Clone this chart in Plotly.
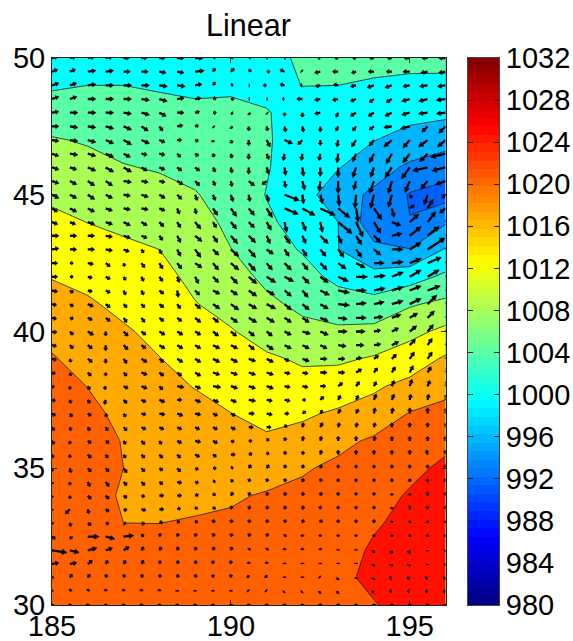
import numpy as np
import plotly.graph_objects as go

TITLE = "Linear"
LON_P = [185,186,187,188,189,190,191,192,193,194,195,196]
LAT_P = [50,49,48,47,46,45,44,43,42,41,40,39,38,37,36,35,34,33,32,31,30]
PRESSURE = [
[1002.6,1002.8,1002.8,1002.6,1002.3,1002.4,1003.4,1004.3,1004.5,1004.8,1004.8,1005],
[1003.5,1004.0,1004.0,1003.65,1003.4,1003.7,1003.0,1004.05,1004.0,1003.7,1003.4,1003.2],
[1006.0,1005.87,1005.44,1005.04,1004.62,1004.42,1004.2,1002.6,1002.6,1002.0,1001.2,1000.8],
[1008.28,1007.67,1006.82,1006.37,1005.82,1005.14,1004.42,1001.9,1001.4,1000.1,998.6,997.6],
[1009.78,1009.13,1008.2,1007.7,1007.02,1005.85,1004.3,1001.5,1000.2,997.7,995.3,993.7],
[1011.33,1010.56,1009.8,1009.16,1008.21,1006.6,1003.85,1001.6,997.6,995.3,991.7,990.5],
[1012.82,1011.95,1011.3,1010.58,1009.18,1007.31,1004.7,1002.4,1000.0,993.5,992.1,995.6],
[1014.3,1013.49,1012.64,1012,1010.14,1008.05,1005.6,1003.7,1000.05,997,996.1,1000.3],
[1015.84,1015.09,1013.93,1013.06,1011.14,1009.47,1007.2,1005.4,1003,1001.2,1002.3,1004.8],
[1017.33,1016.43,1015.17,1014.08,1012.14,1010.84,1008.75,1007.2,1005.8,1005.5,1007.6,1008.9],
[1018.9,1017.53,1016.4,1015.13,1013.4,1012.23,1010.64,1009,1008.7,1009,1010.9,1012.9],
[1020.3,1018.59,1017.5,1016.09,1014.67,1013.5,1012.47,1011.6,1011.4,1012.4,1014,1016.5],
[1021,1019.95,1018.4,1016.73,1015.9,1014.78,1013.66,1013,1014,1015.5,1017,1019],
[1021.6,1020.6,1019.4,1017.37,1016.8,1016.04,1015,1015.5,1016.5,1017.4,1020.2,1021],
[1022,1021.3,1019.85,1018.04,1017.67,1017.25,1016.5,1017.2,1019,1020.6,1021.6,1023],
[1022.3,1021.8,1020,1018.68,1018.52,1018.41,1018.5,1019.6,1020.8,1021.8,1023,1024.8],
[1022.5,1022.1,1019.4,1019.34,1019.4,1019.61,1020.3,1020.9,1021.6,1022.5,1024.4,1025.7],
[1022.6,1022.4,1020,1019.98,1020.2,1020.5,1021,1021.5,1022.2,1023.6,1025,1026],
[1022.7,1022.6,1021.2,1020.8,1021,1021.1,1021.5,1021.9,1022.5,1024.5,1025.4,1026],
[1022.8,1022.8,1022,1021.4,1021.6,1021.6,1021.9,1022.2,1023.2,1024.8,1025.6,1025.9],
[1022.9,1023,1022.4,1021.9,1022,1022,1022.2,1022.4,1023.2,1023.8,1025.4,1025.8],
]
BAND_LEVELS = [988,992,996,1000,1004,1008,1012,1016,1020,1024]
BAND_COLORS = ["#0060ff","#0080ff","#00b4ff","#00ffff","#5affa5","#aaff55","#ffff00","#ffaa00","#ff6000","#ff1000"]

LON_W = [185,185.5,186,186.5,187,187.5,188,188.5,189,189.5,190,190.5,191,191.5,192,192.5,193,193.5,194,194.5,195,195.5,196]
LAT_W = [50,49.5,49,48.5,48,47.5,47,46.5,46,45.5,45,44.5,44,43.5,43,42.5,42,41.5,41,40.5,40,39.5,39,38.5,38,37.5,37,36.5,36,35.5,35,34.5,34,33.5,33,32.5,32,31.5,31,30.5,30]
U = [
[5,5,6,6,5,5,5,6,7,2,2,2,1,1,0,-2,-3,-3,-4,-4,-5,-5,-6],
[5,5,7,7,6,6,6,6,8,2,3,2,3,-4,-1,-5,-5,-4,-5,-5,-6,-6,-6],
[6,6,7,7,7,7,7,7,6,2,2,1,-3,-4,-2,-4,-4,-5,-6,-6,-6,-7,-7],
[6,6,7,7,7,7,7,6,5,3,3,1,1,-2,-5,-5,-5,-5,-4,-5,-7,-8,-8],
[6,7,7,7,7,7,6,6,4,3,2,1,1,0,0,-5,-2,-5,-5,-6,-7,-8,-8],
[6,7,7,7,7,6,3,5,3,1,1,0,1,1,1,0,-2,-3,-4,-7,-8,-5,-6],
[6,7,7,7,7,7,5,4,3,0,1,0,3,7,-4,0,-1,-4,-4,-7,-6,-8,-7],
[6,7,7,7,6,5,5,3,3,1,1,0,2,-1,-1,-1,-1,-3,-4,-5,-6,-7,-13],
[6,6,7,7,7,5,5,4,4,2,1,0,2,1,1,0,0,-3,-3,-6,-7,-13,-12],
[6,6,6,6,7,6,5,5,4,2,1,5,-4,1,2,-1,0,-2,-4,-3,-4,-6,-9],
[6,6,6,6,6,6,5,4,2,2,2,1,2,13,1,2,1,-1,-3,-3,2,-3,-3],
[5,6,6,6,6,6,5,2,1,4,5,5,5,12,11,13,10,2,7,2,4,5,-5],
[5,5,6,6,6,5,4,3,5,3,5,5,4,2,3,2,12,6,6,8,8,7,5],
[6,6,6,6,6,5,3,3,6,4,6,6,3,5,3,7,3,5,6,9,10,10,6],
[6,6,6,6,5,2,2,3,5,5,7,6,6,4,4,5,5,5,6,10,10,15,8],
[5,3,5,4,1,3,3,4,6,5,7,6,5,6,5,6,7,8,9,10,10,12,8],
[5,3,4,4,2,2,3,2,3,5,6,7,8,8,6,7,9,10,10,10,10,10,8],
[5,3,4,4,2,2,4,1,4,6,6,7,7,6,5,8,10,9,10,10,10,11,8],
[4,3,5,4,3,3,4,3,5,6,7,7,8,6,6,7,10,9,9,10,10,8,6],
[4,3,4,4,3,3,4,4,5,5,6,7,7,6,6,7,8,9,8,8,7,6,5],
[4,3,5,0,4,4,5,5,5,5,5,5,5,6,7,7,8,8,6,6,6,5,5],
[4,3,4,0,4,4,5,5,5,6,6,5,6,6,6,6,7,7,6,6,5,4,4],
[4,1,4,0,3,5,4,5,5,6,6,6,6,4,6,6,6,5,4,4,4,4,3],
[3,1,3,0,3,5,4,4,5,6,6,6,6,5,5,6,6,5,3,3,3,3,3],
[2,0,2,-1,4,5,3,6,5,7,6,6,6,5,5,5,4,3,2,2,2,2,2],
[3,1,2,-1,3,4,5,4,5,5,5,6,5,5,3,3,2,2,2,2,1,1,1],
[3,2,3,1,2,4,5,5,5,4,4,5,5,4,3,2,2,2,1,1,0,0,1],
[2,1,2,2,3,4,4,4,4,4,4,4,4,2,1,2,1,1,1,0,0,0,1],
[2,0,3,3,2,3,2,4,5,4,3,3,2,1,1,1,0,0,1,0,0,0,0],
[1,0,3,2,2,3,3,3,4,3,4,3,2,1,1,1,0,0,0,0,0,-1,0],
[0,1,3,3,3,3,3,3,3,3,2,2,2,1,1,1,0,0,0,0,0,0,0],
[0,0,2,3,3,3,3,4,3,2,2,1,1,1,1,1,0,0,0,0,0,0,0],
[0,0,3,3,3,3,4,4,3,2,2,1,1,1,1,1,0,0,0,0,0,0,0],
[0,-4,1,3,3,4,4,3,2,2,1,1,1,1,1,0,0,0,0,0,0,0,0],
[1,1,3,3,2,3,3,2,2,1,1,1,1,1,1,1,0,0,0,0,0,0,0],
[3,2,10,8,9,2,1,1,1,1,1,1,1,1,0,0,0,0,0,0,0,0,0],
[13,8,8,6,5,2,2,1,1,1,1,1,1,0,0,0,0,0,-1,-1,-1,0,-1],
[6,6,4,2,2,2,1,1,1,0,0,0,0,0,0,0,0,0,-1,-1,-1,0,-1],
[1,2,2,1,1,1,1,1,1,0,0,-1,-1,0,0,-1,-1,0,-1,-2,-2,-2,-2],
[0,1,1,0,0,0,0,0,0,0,0,-1,-1,-1,-1,-1,-1,0,-2,-2,-2,-2,-2],
[0,0,0,0,0,0,0,0,0,0,0,0,0,0,0,0,0,0,0,0,0,0,0],
]
V = [
[1,1,1,1,0,0,0,0,0,1,1,1,0,0,0,0,0,0,0,0,0,0,0],
[2,2,1,1,0,0,-1,-1,1,3,3,2,0,2,1,-1,0,-1,0,0,0,-1,-1],
[2,2,1,0,0,0,-1,-1,1,3,1,0,0,1,0,-1,1,-1,-2,-2,-1,-1,-1],
[2,2,0,0,0,-1,-2,1,1,1,0,0,0,0,0,-1,-1,-2,-3,-3,-2,-2,-1],
[1,0,0,0,-1,-2,-3,0,1,0,-1,-2,-1,-3,-4,-1,-4,-3,-3,-3,-2,-1,-1],
[0,-1,-1,-2,-3,-4,-4,1,1,-1,-2,-4,-4,-5,-5,-5,-4,-4,-3,-1,-2,-5,-6],
[-1,-1,-2,-3,-4,-3,-2,0,-1,-2,-3,-5,-6,-3,-4,-5,-6,-6,-5,-6,-7,-6,-6],
[-2,-1,-2,-3,-3,-1,-1,-3,-2,-3,-4,-5,-5,-6,-6,-6,-8,-7,-8,-9,-8,-7,-3],
[-2,-2,-3,-4,-4,-3,-2,-3,-3,-4,-5,-6,-6,-7,-8,-8,-9,-9,-9,-9,-10,-3,-3],
[-2,-3,-4,-4,-1,-1,-1,-3,-4,-4,-5,-4,-3,-6,-8,-9,-11,-8,-11,-11,-10,-7,-3],
[-3,-3,-4,-3,-1,-2,-3,-4,-5,-5,-6,-6,-6,-5,-8,-8,-10,-12,-12,-11,-3,-9,-3],
[-3,-3,-3,-2,-1,-1,-2,-5,-5,-6,-7,-6,-8,-5,-6,-6,-8,-12,-10,-8,3,8,-4],
[-2,-2,-2,-2,-3,-3,-4,-5,-6,-5,-6,-5,-7,-9,-8,-9,-10,-13,-10,-3,7,9,8],
[0,0,0,-1,-2,-2,-4,-6,-5,-6,-7,-6,-7,-7,-7,-7,-7,-8,-6,2,8,8,6],
[1,0,0,-1,-2,-3,-4,-6,-7,-5,-6,-7,-4,-6,-6,-6,-7,-7,-5,0,6,10,8],
[0,0,-1,-3,-3,-4,-5,-5,-4,-6,-6,-7,-6,-6,-6,-6,-5,-4,0,1,4,5,4],
[0,0,-1,-2,-3,-4,-4,-5,-6,-5,-6,-6,-5,-4,-6,-5,-4,0,1,4,6,6,5],
[-1,-2,-1,-2,-4,-4,-3,-6,-4,-3,-4,-5,-4,-5,-6,-4,-2,0,2,3,4,4,3],
[-1,-2,-2,-3,-3,-3,-3,-4,-4,-4,-5,-4,-4,-5,-5,-4,-1,1,2,3,5,8,5],
[-1,-1,-2,-3,-4,-4,-3,-3,-4,-4,-4,-4,-4,-4,-4,-3,-1,0,1,3,4,6,5],
[-1,-3,-3,-4,-4,-3,-3,-3,-3,-4,-4,-4,-4,-3,-2,-3,0,0,1,3,5,6,5],
[-1,-3,-3,-5,-4,-3,-3,-3,-3,-3,-3,-4,-4,-3,-3,-3,-1,0,1,3,5,6,5],
[-1,-3,-3,-4,-4,-3,-3,-3,-3,-3,-3,-2,-3,-2,-2,0,0,1,3,4,6,6,5],
[-1,-3,-3,-3,-3,-2,-3,-3,-3,-2,-2,-2,-2,-1,-1,0,0,3,4,5,6,5,5],
[-1,-3,-3,-3,-2,-2,-3,-1,-2,-1,-2,-2,-2,-1,-1,0,3,4,4,5,6,5,5],
[-1,-3,-3,-4,-3,-2,-2,0,-2,-2,-2,-1,-1,-1,0,3,4,4,5,5,5,5,5],
[-2,-3,-2,-3,-3,-1,-1,-2,-1,-2,-2,0,-1,0,2,3,4,4,5,5,5,5,5],
[-3,-3,-3,-3,-3,-2,-2,-2,-2,-2,-2,0,0,2,4,4,4,4,4,4,4,4,4],
[-3,-3,-2,-2,-3,-3,-3,-2,-1,-2,-1,0,2,3,4,4,4,4,4,4,4,4,4],
[-3,-3,-3,-3,-3,-3,-3,-3,-2,-2,0,1,2,3,3,4,4,4,4,4,4,4,4],
[-3,-4,-3,-3,-4,-3,-2,-3,-1,0,1,3,3,3,3,3,3,3,3,3,3,3,3],
[-2,-3,-4,-4,-3,-3,-2,-1,-1,1,2,3,3,3,3,3,3,3,3,3,3,3,3],
[-2,-3,-3,-3,-2,-1,0,0,1,2,3,3,3,3,3,3,3,3,3,2,2,3,3],
[-1,-4,-4,-2,-1,-1,0,1,2,2,3,3,3,3,3,3,3,3,3,2,3,3,3],
[-1,-3,-2,-1,-1,-1,1,2,2,3,3,3,3,3,3,3,3,3,3,2,2,2,2],
[-2,-2,0,-2,1,2,3,3,3,3,3,3,3,2,2,2,2,2,2,2,2,2,2],
[-2,-2,2,2,3,3,3,3,3,3,3,2,2,2,2,2,1,1,-2,-3,-3,-1,-1],
[1,1,3,3,3,3,3,3,3,3,3,2,2,1,1,1,1,1,-2,-2,-2,-1,-1],
[1,3,3,3,3,3,3,3,3,3,3,2,2,1,1,1,-2,-1,-2,-1,-1,-1,-1],
[1,2,2,2,2,2,2,1,1,1,1,1,1,-1,-1,-2,-2,0,-1,0,0,0,0],
[1,1,1,1,1,1,1,1,1,1,1,1,1,1,1,1,1,1,1,1,1,1,1],
]
COLORBAR_TICKS = list(range(980, 1033, 4))
LON_TICKS = [185, 190, 195]
LAT_TICKS = [30, 35, 40, 45, 50]

W, H = 573, 641
PX_L, PX_R, PX_T, PX_B = 52, 445.5, 58, 605
CB_L, CB_R = 468, 499
FONT = "Liberation Sans"
PX_PER_LON = (PX_R - PX_L) / 11.0
PX_PER_LAT = (PX_B - PX_T) / 20.0
ARROW_GAIN = 1.15


def jet(t):
    r = np.clip(1.5 - np.abs(4 * t - 3), 0, 1)
    g = np.clip(1.5 - np.abs(4 * t - 2), 0, 1)
    b = np.clip(1.5 - np.abs(4 * t - 1), 0, 1)
    return "rgb(%d,%d,%d)" % (round(r * 255), round(g * 255), round(b * 255))


zlo, zhi = BAND_LEVELS[0], BAND_LEVELS[-1] + 4
cs = []
for lev, col in zip(BAND_LEVELS, BAND_COLORS):
    cs.append([(lev - zlo) / (zhi - zlo), col])
    cs.append([(lev + 4 - zlo) / (zhi - zlo), col])

fig = go.Figure()
fig.add_trace(go.Contour(
    x=LON_P, y=LAT_P, z=PRESSURE, zmin=zlo, zmax=zhi, colorscale=cs, showscale=False,
    autocontour=False,
    contours=dict(start=zlo, end=zhi, size=4, coloring="fill", showlines=True),
    line=dict(color="#1a1a1a", width=0.8, smoothing=0),
    xaxis="x", yaxis="y", hoverinfo="skip",
))

sx, sy, hx, hy = [], [], [], []
for j, lat in enumerate(LAT_W):
    for i, lon in enumerate(LON_W):
        u, v = U[j][i] * ARROW_GAIN, V[j][i] * ARROW_GAIN
        L = float(np.hypot(u, v))
        if L == 0:
            continue
        ex, ey = u / L, v / L
        head = min(0.4 * L, 4.5) + 0.4
        half = 1.8 + 0.05 * L
        bx, by = u - ex * head, v - ey * head
        sx += [lon, lon + bx / PX_PER_LON, None]
        sy += [lat, lat + by / PX_PER_LAT, None]
        hx += [lon + u / PX_PER_LON, lon + (bx - ey * half) / PX_PER_LON, lon + (bx + ey * half) / PX_PER_LON, lon + u / PX_PER_LON, None]
        hy += [lat + v / PX_PER_LAT, lat + (by + ex * half) / PX_PER_LAT, lat + (by - ex * half) / PX_PER_LAT, lat + v / PX_PER_LAT, None]
fig.add_trace(go.Scatter(x=sx, y=sy, mode="lines", line=dict(color="black", width=2.3), hoverinfo="skip", showlegend=False, connectgaps=False))
fig.add_trace(go.Scatter(x=hx, y=hy, mode="lines", fill="toself", fillcolor="black", line=dict(color="black", width=0.6), hoverinfo="skip", showlegend=False))

n = 64
edges = np.linspace(980, 1032, n + 1)
mids = (edges[:-1] + edges[1:]) / 2
strip = [[float(m)] for m in mids]
scale = []
for k in range(n):
    c = jet((k + 0.5) / n)
    scale.append([k / n, c])
    scale.append([(k + 1) / n, c])
fig.add_trace(go.Heatmap(x=[0, 1], y=edges.tolist(), z=strip, zmin=980, zmax=1032, colorscale=scale,
                         showscale=False, xaxis="x2", yaxis="y2", hoverinfo="skip"))

fig.update_layout(
    width=W, height=H, margin=dict(l=0, r=0, t=0, b=0, autoexpand=False), paper_bgcolor="white", plot_bgcolor="white",
    showlegend=False, font=dict(family=FONT, color="black", size=29),
    xaxis=dict(domain=[PX_L / W, PX_R / W], range=[185, 196], tickvals=LON_TICKS, ticks="inside", ticklen=5,
               tickcolor="#222", mirror="ticks", showline=True, linecolor="#222", linewidth=1, showgrid=False,
               zeroline=False, tickfont=dict(size=29, family=FONT), anchor="y", automargin=False, ticklabelstandoff=-5),
    yaxis=dict(domain=[1 - PX_B / H, 1 - PX_T / H], range=[30, 50], tickvals=LAT_TICKS, ticks="inside", ticklen=5,
               tickcolor="#222", mirror="ticks", showline=True, linecolor="#222", linewidth=1, showgrid=False,
               zeroline=False, tickfont=dict(size=29, family=FONT), anchor="x", automargin=False),
    xaxis2=dict(domain=[CB_L / W, CB_R / W], range=[0, 1], showticklabels=False, ticks="", showgrid=False,
                zeroline=False, showline=True, linecolor="#444", linewidth=1, mirror=True, anchor="y2", automargin=False),
    yaxis2=dict(domain=[1 - PX_B / H, 1 - PX_T / H], range=[980, 1032], tickvals=COLORBAR_TICKS, side="right",
                ticks="inside", ticklen=5, tickcolor="#222", mirror="ticks", showline=True, linecolor="#444", linewidth=1,
                showgrid=False, zeroline=False, tickfont=dict(size=29, family=FONT), anchor="x2", automargin=False),
    annotations=[dict(text=TITLE, x=248 / W, y=1 - 25 / H, xref="paper", yref="paper", showarrow=False,
                      xanchor="center", yanchor="middle", font=dict(size=30.5, family=FONT))],
)
fig.write_html("out.html", config={"displayModeBar": False}, post_script="document.body.style.margin='0';")
